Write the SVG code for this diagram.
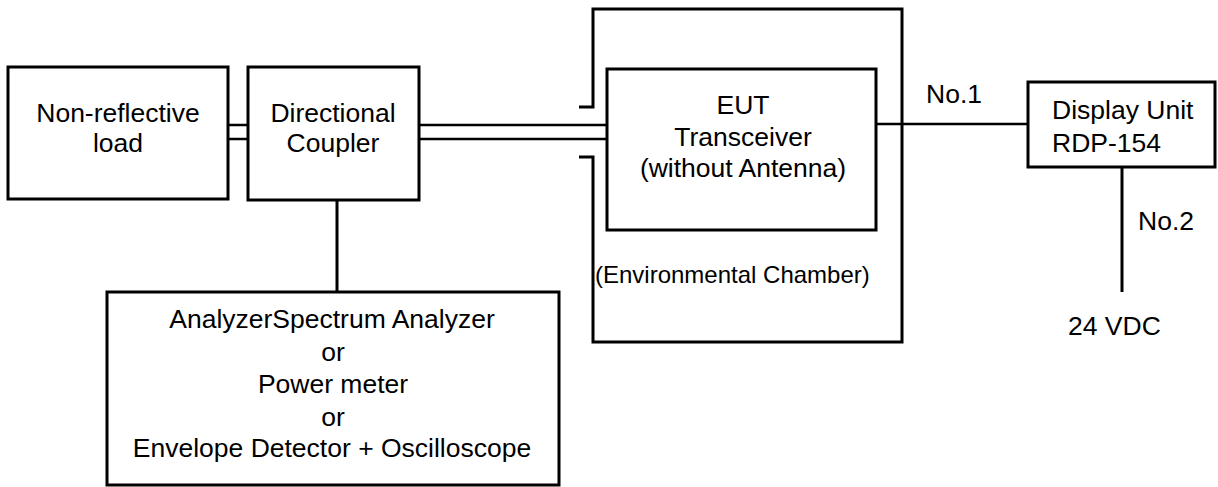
<svg xmlns="http://www.w3.org/2000/svg" width="1218" height="487" viewBox="0 0 1218 487">
<style>
.box{fill:#fff;stroke:#000;stroke-width:3}
.ln{fill:none;stroke:#000;stroke-width:3}
.thin{fill:none;stroke:#000;stroke-width:2.5}
text{font-family:"Liberation Sans",Arial,sans-serif;font-size:26.5px;fill:#000}
.c{text-anchor:middle}
.sm{font-size:24px}
</style>
<rect width="1218" height="487" fill="#fff"/>
<g id="connectors">
<line class="thin" x1="228" y1="125" x2="248" y2="125"/>
<line class="thin" x1="228" y1="139" x2="248" y2="139"/>
<line class="ln" x1="337" y1="199" x2="337" y2="292"/>
<line class="thin" x1="419" y1="125" x2="607" y2="125"/>
<line class="thin" x1="419" y1="139" x2="607" y2="139"/>
<line class="thin" x1="876" y1="124" x2="1028" y2="124"/>
<line class="ln" x1="1122" y1="167" x2="1122" y2="292"/>
<text x="926" y="103">No.1</text>
<text x="1138" y="230">No.2</text>
</g>
<g id="chamber">
<polyline class="ln" points="579,107 593,107 593,9 902,9 902,342 593,342 593,157 579,157"/>
<text class="sm" x="595" y="283">(Environmental Chamber)</text>
</g>
<g id="load">
<rect class="box" x="8" y="67" width="220" height="132"/>
<text class="c" x="118" y="122">Non-reflective</text>
<text class="c" x="118" y="152">load</text>
</g>
<g id="coupler">
<rect class="box" x="248" y="67" width="171" height="133"/>
<text class="c" x="333" y="122">Directional</text>
<text class="c" x="333" y="152">Coupler</text>
</g>
<g id="analyzer">
<rect class="box" x="107" y="292" width="452" height="193"/>
<text class="c" x="332" y="328">AnalyzerSpectrum Analyzer</text>
<text class="c" x="333" y="361">or</text>
<text class="c" x="333" y="393">Power meter</text>
<text class="c" x="333" y="426">or</text>
<text class="c" x="332" y="457">Envelope Detector + Oscilloscope</text>
</g>
<g id="eut">
<rect class="box" x="607" y="69" width="269" height="161"/>
<text class="c" x="743" y="114">EUT</text>
<text class="c" x="743" y="146">Transceiver</text>
<text class="c" x="743" y="177">(without Antenna)</text>
</g>
<g id="display">
<rect class="box" x="1028" y="82" width="187" height="85"/>
<text x="1052" y="119">Display Unit</text>
<text x="1052" y="152">RDP-154</text>
</g>
<g id="power">
<text x="1068" y="335">24 VDC</text>
</g>
</svg>
